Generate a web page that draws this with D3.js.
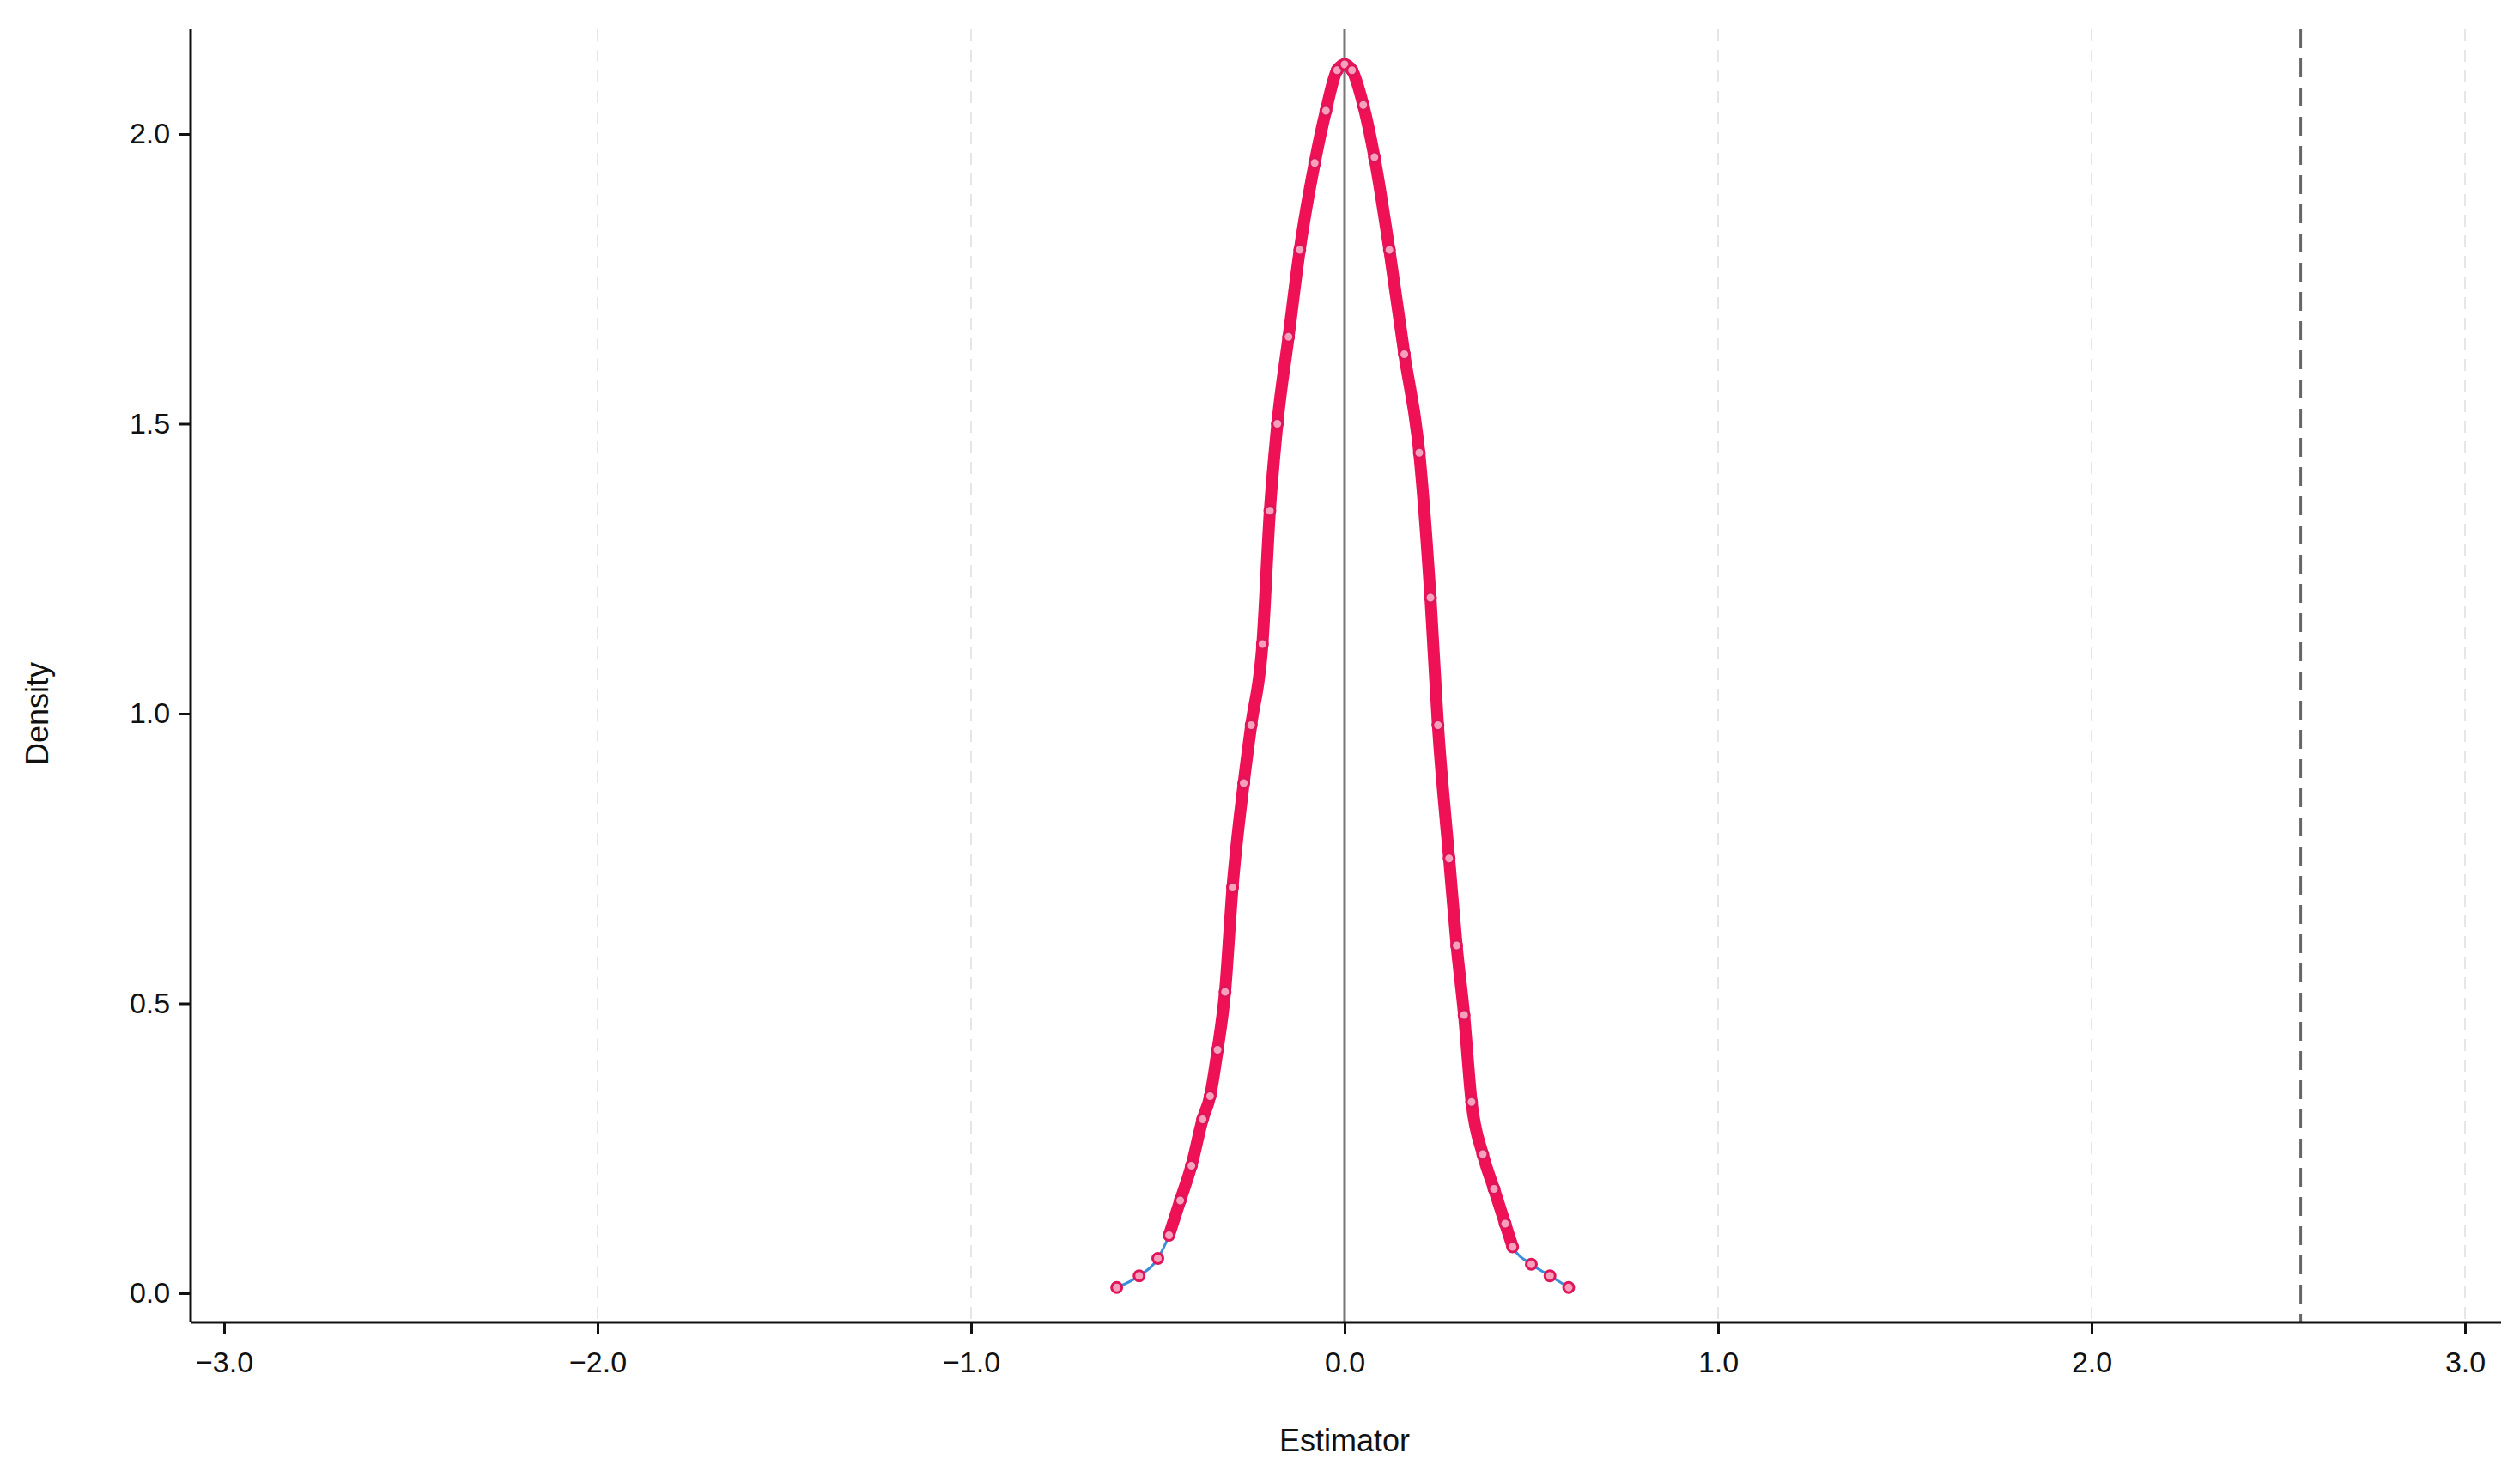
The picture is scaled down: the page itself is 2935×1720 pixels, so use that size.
<!DOCTYPE html>
<html><head><meta charset="utf-8">
<script src="https://cdn.jsdelivr.net/npm/d3@7"></script>
<style>body{margin:0;background:#fff}text{font-family:"Liberation Sans",Arial,sans-serif}</style>
</head><body><svg id="chart" width="2935" height="1720"></svg>
<script>
// density estimate
var densityX = [-0.61,-0.55,-0.5,-0.47,-0.44,-0.41,-0.38,-0.36,-0.34,-0.32,-0.30,-0.27,-0.25,-0.22,-0.20,-0.18,-0.15,-0.12,-0.08,-0.05,-0.02,0,0.02,0.05,0.08,0.12,0.16,0.20,0.23,0.25,0.28,0.30,0.32,0.34,0.37,0.40,0.43,0.45,0.50,0.55,0.60];
var densityY = [0.01,0.03,0.06,0.1,0.16,0.22,0.30,0.34,0.42,0.52,0.70,0.88,0.98,1.12,1.35,1.50,1.65,1.80,1.95,2.04,2.11,2.12,2.11,2.05,1.96,1.80,1.62,1.45,1.20,0.98,0.75,0.60,0.48,0.33,0.24,0.18,0.12,0.08,0.05,0.03,0.01];
var xTicks = [-3,-2,-1,0,1,2,3];
var yTicks = [0,0.5,1,1.5,2];
var gridX = [-2,-1,1,2,3];
var refLine = 2.56;

var svg = d3.select("#chart");
var x = d3.scaleLinear().domain([0,1]).range([1566,2001]);
var y = d3.scaleLinear().domain([0,1]).range([1506,831]);
var pts = densityX.map(function(d,i){return [d,densityY[i]];});

svg.selectAll(".grid").data(gridX).enter().append("line")
  .attr("x1",x).attr("x2",x).attr("y1",34).attr("y2",1540)
  .attr("stroke","#e6e6e6").attr("stroke-width",2).attr("stroke-dasharray","14,10");
svg.append("line").attr("x1",x(refLine)).attr("x2",x(refLine)).attr("y1",34).attr("y2",1540)
  .attr("stroke","#666").attr("stroke-width",3).attr("stroke-dasharray","22,12");
svg.append("line").attr("x1",x(0)).attr("x2",x(0)).attr("y1",34).attr("y2",1540)
  .attr("stroke","#777").attr("stroke-width",3);

var line = d3.line().x(function(d){return x(d[0]);}).y(function(d){return y(d[1]);}).curve(d3.curveMonotoneX);
svg.append("path").datum(pts).attr("d",line).attr("fill","none").attr("stroke","#3a8fd8").attr("stroke-width",3);
svg.append("path").datum(pts.slice(3,pts.length-3)).attr("d",line).attr("fill","none")
  .attr("stroke","#ee1155").attr("stroke-width",14).attr("stroke-linejoin","round");
svg.selectAll(".pt").data(pts).enter().append("circle")
  .attr("cx",function(d){return x(d[0]);}).attr("cy",function(d){return y(d[1]);}).attr("r",6)
  .attr("fill","#f7a0bb").attr("stroke","#e0145a").attr("stroke-width",3);

var xAxis = svg.append("g").attr("transform","translate(0,1540)")
  .call(d3.axisBottom(x).tickValues(xTicks).tickFormat(d3.format(".1f")).tickSize(14).tickSizeOuter(0));
var yAxis = svg.append("g").attr("transform","translate(222,0)")
  .call(d3.axisLeft(y).tickValues(yTicks).tickFormat(d3.format(".1f")).tickSize(14).tickSizeOuter(0));
xAxis.select(".domain").attr("d","M222,0H2913");
yAxis.select(".domain").attr("d","M0,34V1540");
[xAxis,yAxis].forEach(function(a){
  a.selectAll("path,line").attr("stroke","#111").attr("stroke-width",3);
  a.selectAll("text").attr("font-size",34).attr("fill","#111").style("font-family","Liberation Sans, Arial");
});
xAxis.selectAll("text").attr("dy","1.2em");
yAxis.selectAll("text").attr("dx","-0.2em");

svg.append("text").attr("x",x(0)).attr("y",1690).attr("text-anchor","middle").attr("font-size",36).attr("fill","#111").text("Estimator");
svg.append("text").attr("transform","translate(56,"+y(1)+") rotate(-90)").attr("text-anchor","middle").attr("font-size",36).attr("fill","#111").text("Density");
</script></body></html>
